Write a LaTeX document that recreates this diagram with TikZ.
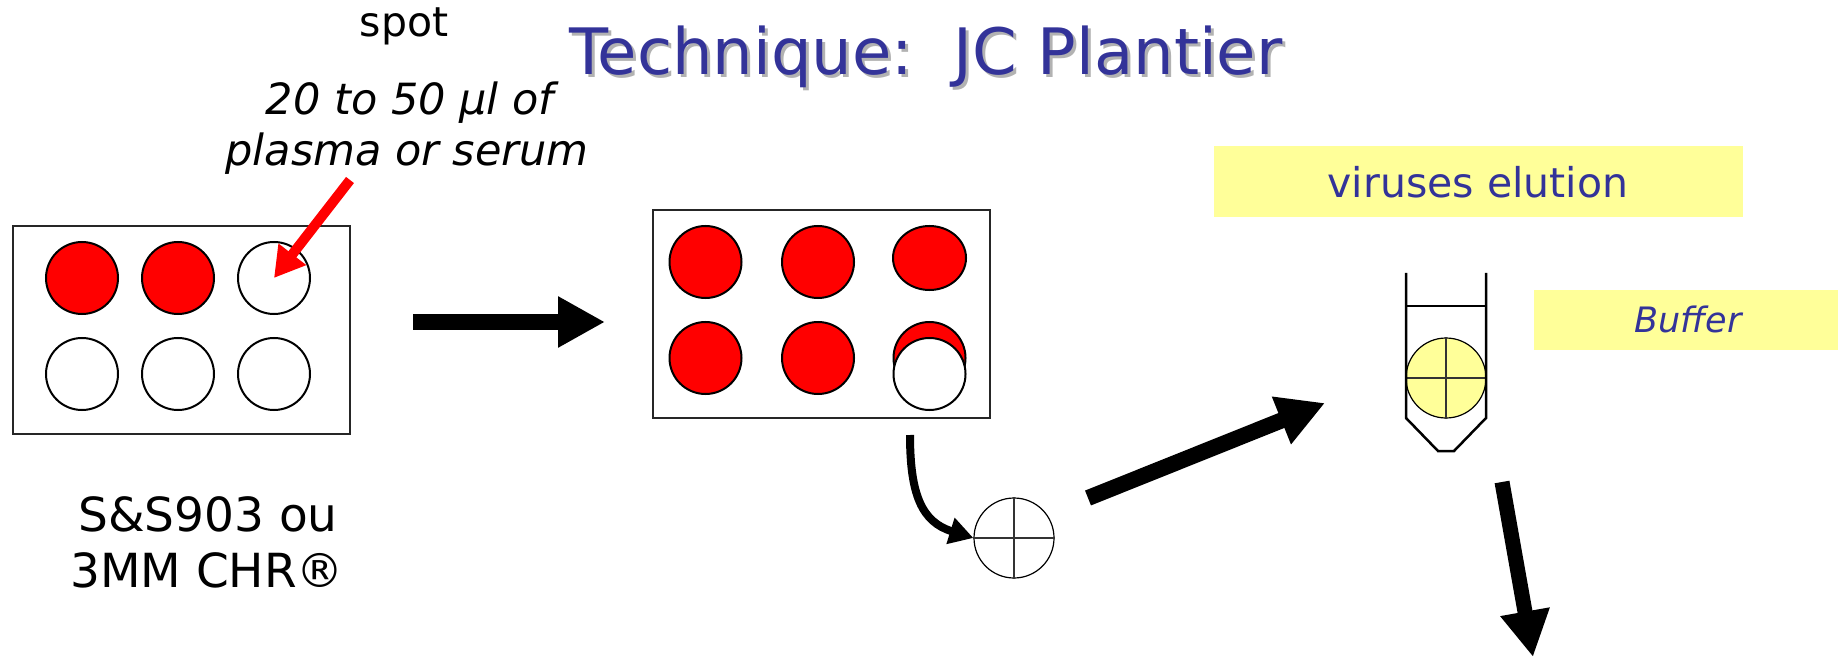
\documentclass[tikz,border=0pt]{standalone}
\usepackage{fontspec}
\setmainfont{DejaVu Sans}
\usetikzlibrary{arrows.meta,shapes.geometric}
\definecolor{titleblue}{RGB}{51,51,153}
\definecolor{paleyellow}{RGB}{255,255,153}
\definecolor{shadowgray}{RGB}{178,178,178}
\begin{document}
\begin{tikzpicture}[x=1pt,y=-1pt,
  well/.style={circle,draw=black,line width=2pt,minimum size=72pt,inner sep=0pt},
  plate/.style={draw=black!85,line width=2.2pt,inner sep=0pt},
  txt/.style={inner sep=0pt,anchor=base},
  disc/.style={circle,draw=black,line width=1.2pt,minimum size=80pt,inner sep=0pt},
  crossline/.style={line width=1.1pt,draw=black!80},
  tagbox/.style={fill=paleyellow,inner sep=0pt},
  blockarrow/.style={line width=16pt,-{Triangle[length=47pt,width=48pt]}},
]
\useasboundingbox (0,0) rectangle (1838,660);

% title
\node[txt,text=shadowgray,font=\fontsize{64}{72}\selectfont] (titleshadow) at (929,78) {Technique:\ \ JC Plantier};
\node[txt,text=titleblue,font=\fontsize{64}{72}\selectfont] (title) at (926,75) {Technique:\ \ JC Plantier};

% left labels
\node[txt,font=\fontsize{41}{48}\selectfont] (spot) at (404,37) {spot};
\node[txt,font=\fontsize{43}{50}\selectfont\itshape] (vol1) at (410,115) {20 to 50 µl of};
\node[txt,font=\fontsize{43}{50}\selectfont\itshape] (vol2) at (407,166) {plasma or serum};
\node[txt,font=\fontsize{47}{54}\selectfont] (paper1) at (208,531) {S\&S903 ou};
\node[txt,font=\fontsize{47}{54}\selectfont] (paper2) at (207,587) {3MM CHR®};

% plate 1
\node[plate,minimum width=337pt,minimum height=208pt] (plate1) at (181.5,330) {};
\node[well,fill=red] (p1a) at (82,278) {};
\node[well,fill=red] (p1b) at (178,278) {};
\node[well,fill=white] (p1c) at (274,278) {};
\node[well,fill=white] (p1d) at (82,374) {};
\node[well,fill=white] (p1e) at (178,374) {};
\node[well,fill=white] (p1f) at (274,374) {};

% red arrow
\coordinate (redtail) at (350,180);
\draw[red,line width=10pt,-{Triangle[length=30pt,width=33pt]}] (redtail) -- (p1c.center);

% arrow 1
\coordinate (a1s) at (413,322);
\coordinate (a1e) at (605,322);
\draw[blockarrow] (a1s) -- (a1e);

% plate 2
\node[plate,minimum width=337pt,minimum height=208pt] (plate2) at (821.5,314) {};
\node[well,fill=red] (p2a) at (705.5,262) {};
\node[well,fill=red] (p2b) at (818,262) {};
\node[ellipse,draw=black,line width=2pt,fill=red,minimum width=73pt,minimum height=64pt,inner sep=0pt] (p2c) at (929.5,258) {};
\node[well,fill=red] (p2d) at (705.5,358) {};
\node[well,fill=red] (p2e) at (818,358) {};
\node[well,fill=red] (p2f) at (929.5,358) {};
\node[well,fill=white] (p2g) at (929.5,374) {};

% filter disc + curved arrow
\node[disc,fill=white] (fdisc) at (1014,538) {};
\draw[crossline] (fdisc.west) -- (fdisc.east);
\draw[crossline] (fdisc.north) -- (fdisc.south);
\coordinate (cstart) at (910,435);
\draw[line width=8pt,-{Triangle[length=24pt,width=26pt]}] (cstart) .. controls (910,495) and (922,522) .. (fdisc.west);

% arrow 2
\coordinate (a2s) at (1088,498);
\coordinate (a2e) at (1325,403);
\draw[blockarrow] (a2s) -- (a2e);

% tags
\node[tagbox,minimum width=529pt,minimum height=71pt] (elubox) at (1478.5,181.5) {};
\node[txt,text=titleblue,font=\fontsize{41}{48}\selectfont] (elutext) at (1478,198) {viruses elution};
\node[tagbox,minimum width=304pt,minimum height=60pt] (bufbox) at (1686,320) {};
\node[txt,text=titleblue,font=\fontsize{35}{42}\selectfont\itshape] (buftext) at (1688,332) {Buffer};

% tube
\coordinate (t1) at (1406,273);
\coordinate (t2) at (1406,418);
\coordinate (t3) at (1438,451);
\coordinate (t4) at (1454,451);
\coordinate (t5) at (1486,418);
\coordinate (t6) at (1486,273);
\coordinate (l1) at (1406,306);
\coordinate (l2) at (1486,306);
\node[disc,fill=paleyellow] (tdisc) at (1446,378) {};
\draw[crossline] (tdisc.west) -- (tdisc.east);
\draw[crossline] (tdisc.north) -- (tdisc.south);
\draw[line width=2.5pt,line join=miter] (t1) -- (t2) -- (t3) -- (t4) -- (t5) -- (t6);
\draw[line width=2.5pt] (l1) -- (l2);

% arrow 3
\coordinate (a3s) at (1502,482);
\coordinate (a3e) at (1533,657);
\draw[line width=15pt,-{Triangle[length=46pt,width=47pt]}] (a3s) -- (a3e);
\end{tikzpicture}
\end{document}
